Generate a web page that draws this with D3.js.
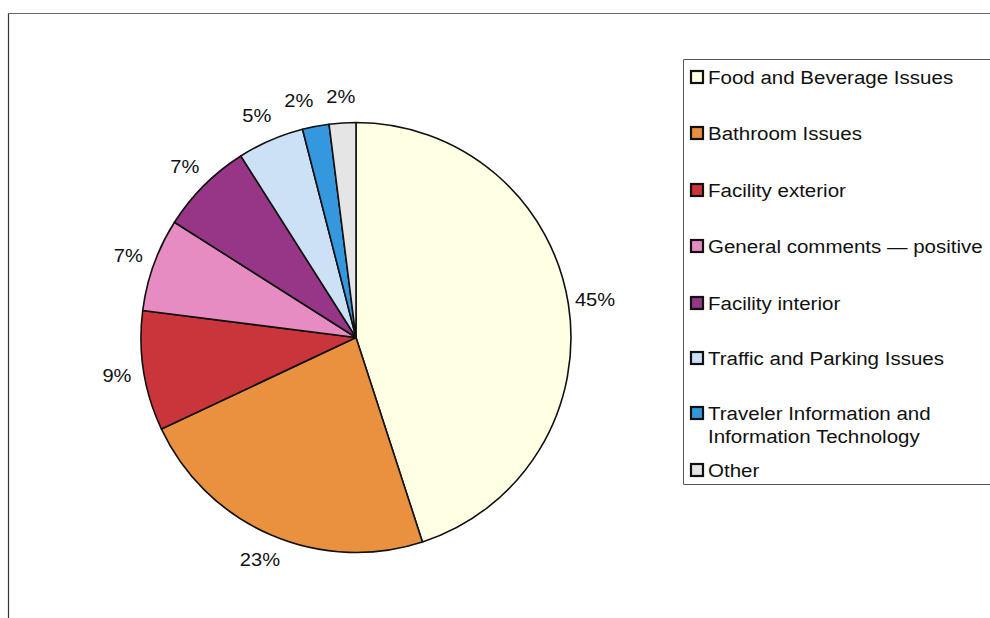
<!DOCTYPE html>
<html>
<head>
<meta charset="utf-8">
<script src="https://cdn.jsdelivr.net/npm/d3@7/dist/d3.min.js"></script>
<style>
  html, body { margin: 0; padding: 0; background: #fff; }
  svg { display: block; font-family: Arial, "Liberation Sans", sans-serif; }
</style>
</head>
<body>
<svg id="chart" width="990" height="618"></svg>
<script>
// Share of comments by category (percent)
const categories = [
  "Food and Beverage Issues",
  "Bathroom Issues",
  "Facility exterior",
  "General comments \u2014 positive",
  "Facility interior",
  "Traffic and Parking Issues",
  "Traveler Information and Information Technology",
  "Other"
];
const values = [45, 23, 9, 7, 7, 5, 2, 2];
const colors = ["#FFFFE4", "#EA9140", "#C9353A", "#E78BC3", "#973586", "#CDE1F6", "#3598DE", "#E5E5E5"];
// Legend text, wrapped as in the chart box
const legendLines = [
  ["Food and Beverage Issues"],
  ["Bathroom Issues"],
  ["Facility exterior"],
  ["General comments \u2014 positive"],
  ["Facility interior"],
  ["Traffic and Parking Issues"],
  ["Traveler Information and", "Information Technology"],
  ["Other"]
];

const data = categories.map((c, i) => ({ name: c, value: values[i], color: colors[i], lines: legendLines[i] }));

const svg = d3.select("#chart");

// Chart area frame (top and left edges)
svg.append("line").attr("x1", 8.5).attr("y1", 13.5).attr("x2", 990).attr("y2", 13.5)
  .attr("stroke", "#666").attr("stroke-width", 1);
svg.append("line").attr("x1", 8.5).attr("y1", 13.5).attr("x2", 8.5).attr("y2", 618)
  .attr("stroke", "#333").attr("stroke-width", 1.2);

const cx = 356, cy = 337.5, r = 215;

const pie = d3.pie().value(d => d.value).sort(null);
const arcs = pie(data);
const arc = d3.arc().innerRadius(0).outerRadius(r);

const g = svg.append("g").attr("transform", `translate(${cx},${cy})`);
g.selectAll("path.slice")
  .data(arcs)
  .join("path")
  .attr("class", "slice")
  .attr("d", arc)
  .attr("fill", d => d.data.color)
  .attr("stroke", "#111")
  .attr("stroke-width", 1.6)
  .attr("stroke-linejoin", "round");

// Percentage labels outside each slice
const labelR = r + 27;
const labelW = 42, labelH = 22;
const labelPos = arcs.map(d => {
  const a = (d.startAngle + d.endAngle) / 2;
  return { x: Math.sin(a) * labelR, y: -Math.cos(a) * labelR };
});
// Push neighbouring labels apart (walking back from the last slice) so they don't collide
for (let i = labelPos.length - 2; i >= 0; i--) {
  const p = labelPos[i], q = labelPos[i + 1];
  if (Math.abs(p.y - q.y) < labelH && q.x - p.x < labelW && q.x - p.x > -labelW) {
    p.x = q.x - labelW;
  }
}
g.selectAll("text.pct")
  .data(arcs)
  .join("text")
  .attr("class", "pct")
  .attr("transform", (d, i) => `translate(${labelPos[i].x},${labelPos[i].y}) scale(1.06,1)`)
  .attr("text-anchor", "middle")
  .attr("dominant-baseline", "central")
  .attr("font-size", 19)
  .attr("fill", "#111")
  .text(d => d.data.value + "%");

// Legend box
const lgX = 683.5, lgY = 59.5, lgBottom = 484.5;
svg.append("path")
  .attr("d", `M995,${lgY} H${lgX} V${lgBottom} H995`)
  .attr("fill", "#fff")
  .attr("stroke", "#555")
  .attr("stroke-width", 1);

// Baselines of the legend entries
const baselines = [84, 140, 197, 253, 310, 365, 420, 477];

const items = svg.append("g").selectAll("g.item")
  .data(data)
  .join("g")
  .attr("class", "item")
  .attr("transform", (d, i) => `translate(0,${baselines[i]})`);

items.append("rect")
  .attr("x", 691).attr("y", -13)
  .attr("width", 12).attr("height", 12)
  .attr("fill", d => d.color)
  .attr("stroke", "#111")
  .attr("stroke-width", 2.2);

items.append("text")
  .attr("transform", "translate(708,0) scale(1.08,1)")
  .attr("font-size", 19)
  .attr("fill", "#111")
  .selectAll("tspan")
  .data(d => d.lines)
  .join("tspan")
  .attr("x", 0)
  .attr("dy", (t, j) => j === 0 ? 0 : 23)
  .text(t => t);
</script>
</body>
</html>
